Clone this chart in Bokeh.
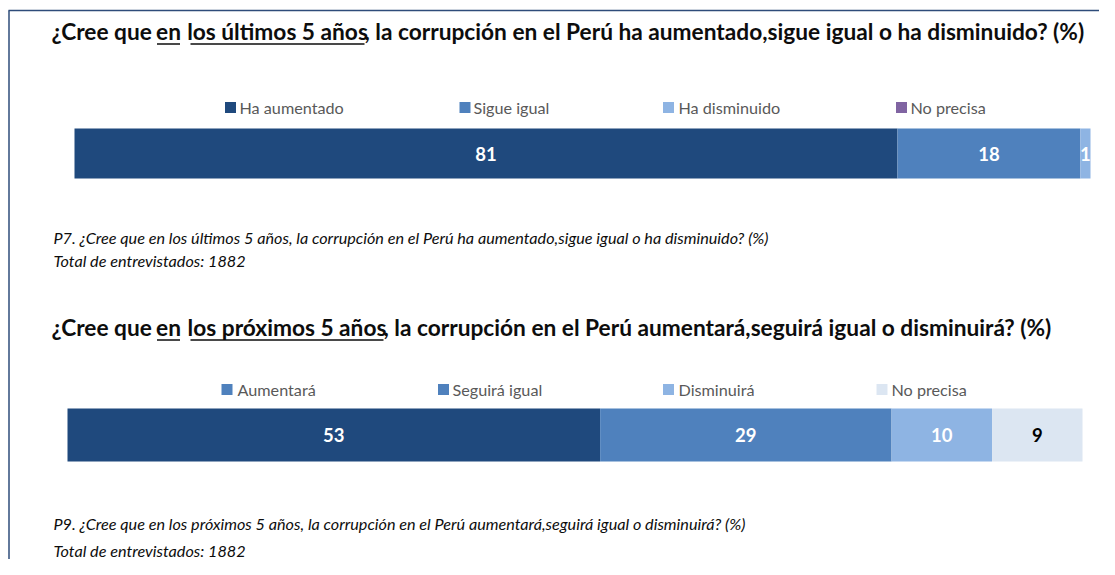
from bokeh.plotting import figure
from bokeh.models import Range1d, ColumnDataSource
from bokeh.core.properties import value
from bokeh.embed import file_html
from bokeh.resources import INLINE

# ---------------- data ----------------
cats1 = ["Ha aumentado", "Sigue igual", "Ha disminuido", "No precisa"]
vals1 = [81, 18, 1, 0]
cats2 = ["Aumentará", "Seguirá igual", "Disminuirá", "No precisa"]
vals2 = [53, 29, 10, 9]

colors1 = ["#1F497D", "#4F81BD", "#8EB4E3", "#8064A2"]
colors2 = ["#1F497D", "#4F81BD", "#8EB4E3", "#DCE6F2"]
legend_colors2 = ["#4F81BD", "#4F81BD", "#8EB4E3", "#DCE6F2"]
label_colors1 = ["white", "white", "white", "white"]
label_colors2 = ["white", "white", "white", "black"]

title1_parts = ["¿Cree que ", "en", "los últimos 5 años",
                ", la corrupción en el Perú ha aumentado,sigue igual o ha disminuido? (%)"]
title2_parts = ["¿Cree que ", "en", "los próximos 5 años",
                ", la corrupción en el Perú aumentará,seguirá igual o disminuirá? (%)"]
note1 = ["P7. ¿Cree que en los últimos 5 años, la corrupción en el Perú ha aumentado,sigue igual o ha disminuido? (%)",
         "Total de entrevistados: 1882"]
note2 = ["P9. ¿Cree que en los próximos 5 años, la corrupción en el Perú aumentará,seguirá igual o disminuirá? (%)",
         "Total de entrevistados: 1882"]

# ---------------- layout ----------------
W, H = 1099, 559
FONT = "Lato"
TITLE_SIZE = "22.7px"

p = figure(width=W, height=H, output_backend="svg", toolbar_location=None,
           x_range=Range1d(0, W), y_range=Range1d(H, 0),
           x_axis_type=None, y_axis_type=None, min_border=0,
           outline_line_color=None, background_fill_color="white")
p.grid.visible = False


# value scales for the two bars (pixel position of 0 and of the total)
def add_scale(name, x0, x1, total):
    s = (x1 - x0) / total
    p.extra_x_ranges[name] = Range1d(-x0 / s, (W - x0) / s)


add_scale("q1", 74, 1090, sum(vals1))
add_scale("q2", 67, 1082, sum(vals2))

# frame
frame_col = "#2E4C7A"
p.line(x=[8, W], y=[10, 10], line_color=frame_col, line_width=1.5)
p.line(x=[8.5, 8.5], y=[10, H], line_color=frame_col, line_width=1.5)


def title(parts, x0, y, ul):
    common = dict(text_font=value(FONT), text_font_style="bold", text_font_size=TITLE_SIZE,
                  text_color="#0D0D0D", text_baseline="middle")
    p.text(x=[x0], y=[y], text=[parts[0]], text_align="left", **common)
    p.text(x=[(ul[0][0] + ul[0][1]) / 2], y=[y], text=[parts[1]], text_align="center", **common)
    p.text(x=[(ul[1][0] + ul[1][1]) / 2], y=[y], text=[parts[2]], text_align="center", **common)
    p.text(x=[ul[1][1]], y=[y], text=[parts[3]], text_align="left", **common)
    for a, b in ul:
        p.line(x=[a, b], y=[y + 12.5] * 2, line_color="#0D0D0D", line_width=1.4)


def legend(cats, cols, sw_x, tx_x, y):
    p.rect(x=sw_x, y=[y] * len(cats), width=11, height=11,
           fill_color=cols, line_color=None)
    p.text(x=tx_x, y=[y] * len(cats), text=cats, text_font=value(FONT),
           text_font_size="16.2px", text_color="#595959", text_baseline="middle", text_align="left")


def bar(vals, cols, lab_cols, rng, y0, y1):
    left, right = [], []
    acc = 0
    for v in vals:
        left.append(acc)
        acc += v
        right.append(acc)
    src = ColumnDataSource(dict(left=left, right=right, y=[(y0 + y1) / 2] * len(vals),
                                color=cols, lab=[str(v) if v > 0 else "" for v in vals],
                                mid=[(l + r) / 2 for l, r in zip(left, right)], lc=lab_cols))
    p.hbar(y="y", left="left", right="right", height=y1 - y0, fill_color="color",
           line_color=None, source=src, x_range_name=rng)
    p.text(x="mid", y="y", text="lab", text_color="lc", text_font=value(FONT),
           text_font_style="bold", text_font_size="18.5px", text_align="center",
           text_baseline="middle", source=src, x_range_name=rng)


def notes(lines, ys):
    p.text(x=[53] * len(lines), y=ys, text=lines, text_font=value(FONT),
           text_font_style="italic", text_font_size="16.2px", text_color="#0D0D0D",
           text_baseline="middle", text_align="left")


# chart 1
title(title1_parts, 51, 31, [(156.5, 179.5), (190, 364)])
legend(cats1, colors1, [230, 464.5, 668, 901], [239, 473, 678, 910], 107)
bar(vals1, colors1, label_colors1, "q1", 128, 178)
notes(note1, [237, 260])

# chart 2
title(title2_parts, 51, 327, [(156.5, 179.5), (190, 383)])
legend(cats2, legend_colors2, [226.5, 443, 668, 881.5], [237, 452, 678, 891], 389)
bar(vals2, colors2, label_colors2, "q2", 408, 461)
notes(note2, [523, 550])

open("out.html", "w").write(file_html(p, INLINE))
